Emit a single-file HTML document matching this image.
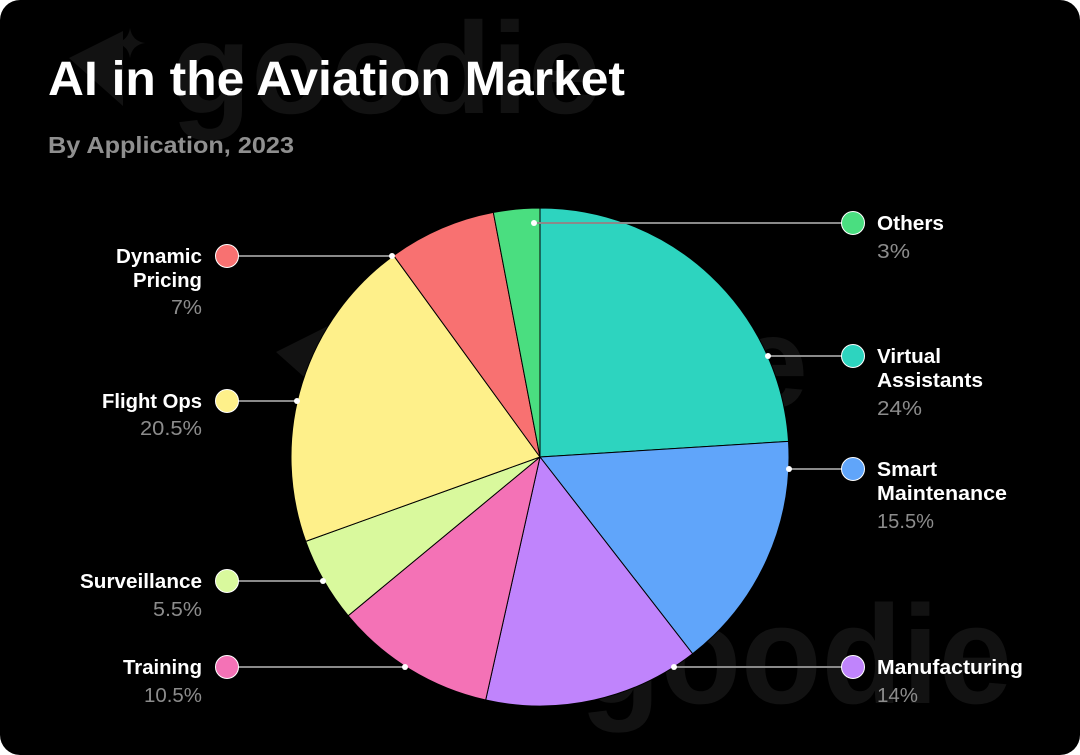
<!DOCTYPE html>
<html>
<head>
<meta charset="utf-8">
<style>
  html,body{margin:0;padding:0;background:#ffffff;}
  body{width:1080px;height:755px;overflow:hidden;}
  .card{position:absolute;left:0;top:0;width:1080px;height:755px;background:#000;border-radius:20px;overflow:hidden;}
  svg{position:absolute;left:0;top:0;}
  text{font-family:"Liberation Sans",Arial,sans-serif;}
</style>
</head>
<body>
<div class="card">
<svg width="1080" height="755" viewBox="0 0 1080 755" xmlns="http://www.w3.org/2000/svg">
  <!-- watermarks -->
  <g fill="#121212">
    <!-- top -->
    <polygon points="69,58 123,31 123,106"/>
    <path d="M130,28 Q132,41 145,43 Q132,45 130,58 Q128,45 115,43 Q128,41 130,28 Z"/>
    <text x="171" y="113" font-size="130" font-weight="bold" textLength="430" lengthAdjust="spacingAndGlyphs">goodie</text>
    <!-- middle -->
    <polygon points="276,352 330,325 330,400"/>
    <text x="378" y="407" font-size="130" font-weight="bold" textLength="430" lengthAdjust="spacingAndGlyphs">goodie</text>
    <!-- bottom -->
    <text x="580" y="703" font-size="140" font-weight="bold" textLength="432" lengthAdjust="spacingAndGlyphs">goodie</text>
  </g>

  <!-- title -->
  <text x="48" y="95" font-size="48" font-weight="bold" fill="#ffffff" textLength="577" lengthAdjust="spacingAndGlyphs">AI in the Aviation Market</text>
  <text x="48" y="153" font-size="23" font-weight="bold" fill="#8f8f8f" textLength="246" lengthAdjust="spacingAndGlyphs">By Application, 2023</text>

  <!-- pie -->
  <g stroke="#000" stroke-width="1" stroke-linejoin="round">
    <path d="M540,457 L540,208 A249,249 0 0 1 788.51,441.37 Z" fill="#2dd4bf"/>
    <path d="M540,457 L788.51,441.37 A249,249 0 0 1 692.61,653.75 Z" fill="#60a5fa"/>
    <path d="M540,457 L692.61,653.75 A249,249 0 0 1 485.68,700.00 Z" fill="#c084fc"/>
    <path d="M540,457 L485.68,700.00 A249,249 0 0 1 348.14,615.72 Z" fill="#f472b6"/>
    <path d="M540,457 L348.14,615.72 A249,249 0 0 1 305.72,541.35 Z" fill="#d9f99d"/>
    <path d="M540,457 L305.72,541.35 A249,249 0 0 1 393.64,255.55 Z" fill="#fef08a"/>
    <path d="M540,457 L393.64,255.55 A249,249 0 0 1 493.34,212.41 Z" fill="#f87171"/>
    <path d="M540,457 L493.34,212.41 A249,249 0 0 1 540,208 Z" fill="#4ade80"/>
  </g>

  <!-- leader lines -->
  <g stroke="#8a8a8a" stroke-width="2">
    <line x1="392" y1="256" x2="227" y2="256"/>
    <line x1="297" y1="401" x2="227" y2="401"/>
    <line x1="323" y1="581" x2="227" y2="581"/>
    <line x1="405" y1="667" x2="227" y2="667"/>
    <line x1="534" y1="223" x2="853" y2="223"/>
    <line x1="768" y1="356" x2="853" y2="356"/>
    <line x1="789" y1="469" x2="853" y2="469"/>
    <line x1="674" y1="667" x2="853" y2="667"/>
  </g>
  <g fill="#ffffff">
    <circle cx="392" cy="256" r="3"/>
    <circle cx="297" cy="401" r="3"/>
    <circle cx="323" cy="581" r="3"/>
    <circle cx="405" cy="667" r="3"/>
    <circle cx="534" cy="223" r="3"/>
    <circle cx="768" cy="356" r="3"/>
    <circle cx="789" cy="469" r="3"/>
    <circle cx="674" cy="667" r="3"/>
  </g>

  <!-- legend circles -->
  <g stroke="#ffffff" stroke-width="1">
    <circle cx="227" cy="256" r="11.5" fill="#f87171"/>
    <circle cx="227" cy="401" r="11.5" fill="#fef08a"/>
    <circle cx="227" cy="581" r="11.5" fill="#d9f99d"/>
    <circle cx="227" cy="667" r="11.5" fill="#f472b6"/>
    <circle cx="853" cy="223" r="11.5" fill="#4ade80"/>
    <circle cx="853" cy="356" r="11.5" fill="#2dd4bf"/>
    <circle cx="853" cy="469" r="11.5" fill="#60a5fa"/>
    <circle cx="853" cy="667" r="11.5" fill="#c084fc"/>
  </g>

  <!-- left labels -->
  <g font-size="20" font-weight="bold" fill="#ffffff" text-anchor="end">
    <text x="202" y="263" textLength="86" lengthAdjust="spacingAndGlyphs">Dynamic</text>
    <text x="202" y="287" textLength="69" lengthAdjust="spacingAndGlyphs">Pricing</text>
    <text x="202" y="408" textLength="100" lengthAdjust="spacingAndGlyphs">Flight Ops</text>
    <text x="202" y="588" textLength="122" lengthAdjust="spacingAndGlyphs">Surveillance</text>
    <text x="202" y="674" textLength="79" lengthAdjust="spacingAndGlyphs">Training</text>
  </g>
  <g font-size="20" fill="#8c8c8c" text-anchor="end">
    <text x="202" y="314" textLength="31" lengthAdjust="spacingAndGlyphs">7%</text>
    <text x="202" y="435" textLength="62" lengthAdjust="spacingAndGlyphs">20.5%</text>
    <text x="202" y="616" textLength="49" lengthAdjust="spacingAndGlyphs">5.5%</text>
    <text x="202" y="702" textLength="58" lengthAdjust="spacingAndGlyphs">10.5%</text>
  </g>

  <!-- right labels -->
  <g font-size="20" font-weight="bold" fill="#ffffff">
    <text x="877" y="230" textLength="67" lengthAdjust="spacingAndGlyphs">Others</text>
    <text x="877" y="363" textLength="64" lengthAdjust="spacingAndGlyphs">Virtual</text>
    <text x="877" y="387" textLength="106" lengthAdjust="spacingAndGlyphs">Assistants</text>
    <text x="877" y="476" textLength="60" lengthAdjust="spacingAndGlyphs">Smart</text>
    <text x="877" y="500" textLength="130" lengthAdjust="spacingAndGlyphs">Maintenance</text>
    <text x="877" y="674" textLength="146" lengthAdjust="spacingAndGlyphs">Manufacturing</text>
  </g>
  <g font-size="20" fill="#8c8c8c">
    <text x="877" y="258" textLength="33" lengthAdjust="spacingAndGlyphs">3%</text>
    <text x="877" y="415" textLength="45" lengthAdjust="spacingAndGlyphs">24%</text>
    <text x="877" y="528" textLength="57" lengthAdjust="spacingAndGlyphs">15.5%</text>
    <text x="877" y="702" textLength="41" lengthAdjust="spacingAndGlyphs">14%</text>
  </g>
</svg>
</div>
</body>
</html>
